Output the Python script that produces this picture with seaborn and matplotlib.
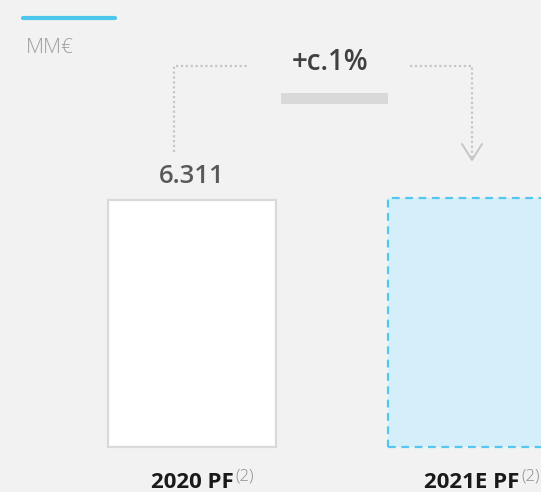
import matplotlib
matplotlib.use("Agg")
import matplotlib.pyplot as plt
import seaborn as sns
from matplotlib.lines import Line2D
from matplotlib.patches import Rectangle
import matplotlib.transforms as mtransforms

sns.set_theme(style="white")
plt.rcParams["font.family"] = ["Open Sans", "DejaVu Sans"]

categories = ["2020 PF", "2021E PF"]
values = [6311, 6374]
value_labels = ["6.311", None]
growth_label = "+c.1%"
unit_label = "MM€"
footnote = "(2)"

BG = "#f2f2f2"
W, H = 541, 492

fig = plt.figure(figsize=(W / 100, H / 100), dpi=100, facecolor=BG)
ax = fig.add_axes([0, 0, 1, 1])
ax.set_facecolor(BG)

sns.barplot(x=categories, y=values, ax=ax, width=0.6)

# bar styles: solid white for actual, dashed light blue for estimate
p0, p1 = ax.patches[0], ax.patches[1]
p0.set_facecolor("white")
p0.set_edgecolor("#d9d9d9")
p0.set_linewidth(1.6)
p1.set_facecolor("#d4effa")
p1.set_edgecolor("#55c6ef")
p1.set_linewidth(1.6)
p1.set_linestyle((0, (3.5, 2.5)))

# bars scaled so that 6311 spans ~247 px, baseline 45 px above bottom
per_px = values[0] / 247.0
ax.set_ylim(-45 * per_px, (H - 45) * per_px)
ax.set_xlim(-192 / 280.0, (W - 192) / 280.0)
ax.axis("off")


def fx(x):
    return x / W


def fy(y):
    return 1 - y / H


ftr = fig.transFigure

# top accent line and unit
fig.add_artist(Line2D([fx(23), fx(115)], [fy(18), fy(18)], transform=ftr,
                      color="#4dc6ee", lw=3))
fig.text(fx(26), fy(48), unit_label, color="#a0a0a0", fontsize=15,
         fontweight="light", ha="left", va="center")

# growth annotation
fig.text(fx(330), fy(63), growth_label, color="#404040", fontsize=20,
         fontweight="semibold", ha="center", va="center")
fig.add_artist(Rectangle((fx(281), fy(104)), fx(388) - fx(281), fy(93) - fy(104),
                         transform=ftr, facecolor="#d9d9d9", edgecolor="none"))

dot = dict(transform=ftr, color="#c6c6c6", lw=1.6, linestyle=(0, (1, 1.2)))
fig.add_artist(Line2D([fx(174), fx(174), fx(249)], [fy(152), fy(66), fy(66)], **dot))
fig.add_artist(Line2D([fx(410), fx(472), fx(472)], [fy(66), fy(66), fy(158)], **dot))
fig.add_artist(Line2D([fx(462), fx(472), fx(482)], [fy(144), fy(160), fy(144)],
                      transform=ftr, color="#c6c6c6", lw=1.4))

# value labels above bars
for i, (v, lab) in enumerate(zip(values, value_labels)):
    if lab:
        ax.annotate(lab, xy=(i, v), xytext=(0, 23), textcoords="offset pixels",
                    ha="center", va="center", fontsize=18.5,
                    fontweight="semibold", color="#595959")

# category labels with footnote marks
btr = mtransforms.blended_transform_factory(ax.transData, ftr)
for i, cat in enumerate(categories):
    t = ax.text(i, fy(482), cat, transform=btr, ha="center", va="center",
                fontsize=16, fontweight="bold", color="#1a1a1a")
    ax.annotate(footnote, xy=(1, 0.75), xycoords=t, xytext=(2, 0),
                textcoords="offset pixels", ha="left", va="center",
                fontsize=12, fontweight="light", color="#8c8c8c")

fig.savefig("out.png", dpi=100, facecolor=BG)
